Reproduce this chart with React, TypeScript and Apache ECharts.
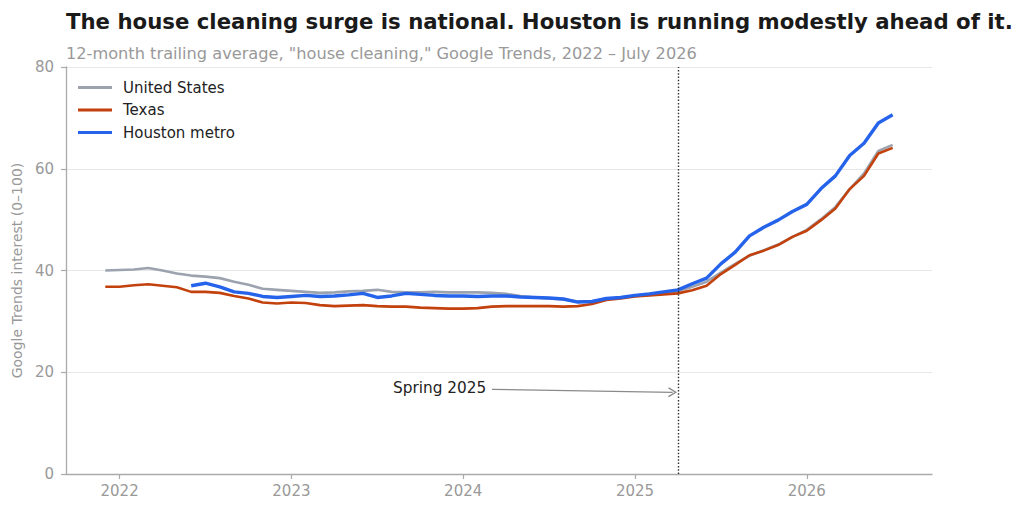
import React, { useEffect, useRef } from "react";
import * as echarts from "echarts";

const months: string[] = [
  "2021-12",
  "2022-01", "2022-02", "2022-03", "2022-04", "2022-05", "2022-06", "2022-07", "2022-08", "2022-09", "2022-10", "2022-11", "2022-12",
  "2023-01", "2023-02", "2023-03", "2023-04", "2023-05", "2023-06", "2023-07", "2023-08", "2023-09", "2023-10", "2023-11", "2023-12",
  "2024-01", "2024-02", "2024-03", "2024-04", "2024-05", "2024-06", "2024-07", "2024-08", "2024-09", "2024-10", "2024-11", "2024-12",
  "2025-01", "2025-02", "2025-03", "2025-04", "2025-05", "2025-06", "2025-07", "2025-08", "2025-09", "2025-10", "2025-11", "2025-12",
  "2026-01", "2026-02", "2026-03", "2026-04", "2026-05", "2026-06", "2026-07",
];

const unitedStates: number[] = [
  40.0,
  40.1, 40.2, 40.5, 40.0, 39.4, 39.0, 38.8, 38.5, 37.8, 37.2, 36.4, 36.2,
  36.0, 35.8, 35.6, 35.7, 35.9, 36.0, 36.2, 35.8, 35.7, 35.7, 35.8, 35.7,
  35.7, 35.7, 35.6, 35.4, 35.0, 34.7, 34.5, 34.3, 33.9, 33.9, 34.4, 34.7,
  35.0, 35.2, 35.5, 35.9, 36.8, 37.8, 39.6, 41.3, 42.9, 44.0, 45.1, 46.6,
  48.0, 50.1, 52.5, 56.0, 59.1, 63.5, 64.7,
];

const texas: number[] = [
  36.8,
  36.8, 37.1, 37.3, 37.0, 36.7, 35.8, 35.8, 35.6, 35.0, 34.5, 33.7, 33.5,
  33.7, 33.6, 33.2, 33.0, 33.1, 33.2, 33.0, 32.9, 32.9, 32.7, 32.6, 32.5,
  32.5, 32.6, 32.9, 33.0, 33.0, 33.0, 33.0, 32.9, 33.0, 33.4, 34.2, 34.5,
  34.9, 35.1, 35.3, 35.5, 36.1, 37.0, 39.3, 41.1, 43.0, 43.9, 45.0, 46.6,
  47.8, 49.9, 52.2, 56.0, 58.6, 63.0, 64.1,
];

const houston: (number | null)[] = [
  null,
  null, null, null, null, null, 37.0, 37.5, 36.8, 35.8, 35.5, 34.9, 34.7,
  34.9, 35.1, 34.9, 35.0, 35.2, 35.5, 34.7, 35.0, 35.5, 35.3, 35.1, 35.0,
  35.0, 34.9, 35.0, 35.0, 34.8, 34.7, 34.6, 34.4, 33.8, 33.9, 34.5, 34.7,
  35.1, 35.4, 35.8, 36.2, 37.4, 38.5, 41.3, 43.6, 46.8, 48.5, 49.9, 51.6,
  53.0, 56.1, 58.6, 62.6, 65.0, 69.0, 70.6,
];

const yearTicks: number[] = [2022, 2023, 2024, 2025, 2026];
const yTicks = { min: 0, max: 80, step: 20 };

const SPRING_2025 = 2025 + 3 / 12; // April 1, 2025
const annotationText = "Spring 2025";
const annotationTextAt: [number, number] = [2024.14, 16.9];
const annotationArrowFrom: [number, number] = [2024.168, 16.65];
const annotationArrowTo: [number, number] = [2025.219, 16.06];

const X_MIN = 2021.688;
const X_MAX = 2026.729;

const TITLE = "The house cleaning surge is national. Houston is running modestly ahead of it.";
const SUBTITLE = '12-month trailing average, "house cleaning," Google Trends, 2022 \u2013 July 2026';
const Y_NAME = "Google Trends interest (0\u2013100)";

const FONT = "DejaVu Sans";

const toYear = (s: string) => Number(s.slice(0, 4)) + (Number(s.slice(5, 7)) - 1) / 12;

const pairs = (vals: (number | null)[]) =>
  months.map((m, i) => [toYear(m), vals[i] == null ? null : vals[i]]).filter((p) => p[1] != null);

export default function App() {
  const ref = useRef<HTMLDivElement>(null);

  useEffect(() => {
    if (!ref.current) return;
    const chart = echarts.init(ref.current, undefined, { renderer: "svg" });
    const openArrow = "path://M5,0 L10,8.5 L8.8,9.3 L5,2.6 L1.2,9.3 L0,8.5 Z";
    const legendLine = "path://M0,0 L34,0 L34,3 L0,3 Z";

    chart.setOption({
      animation: false,
      backgroundColor: "#ffffff",
      textStyle: { fontFamily: FONT },
      title: [
        {
          text: TITLE,
          left: 61,
          top: 6,
          textStyle: { fontFamily: FONT, fontSize: 21.25, fontWeight: "bold", color: "#1a1a1a" },
        },
        {
          text: SUBTITLE,
          left: 61,
          top: 40,
          textStyle: { fontFamily: FONT, fontSize: 16.2, fontWeight: "normal", color: "#999999" },
        },
      ],
      legend: {
        left: 73,
        top: 75,
        orient: "vertical",
        itemWidth: 34,
        itemHeight: 3,
        itemGap: 7.5,
        icon: legendLine,
        data: [
          { name: "United States", itemStyle: { color: "#9ca3af" } },
          { name: "Texas", itemStyle: { color: "#c2410c" } },
          { name: "Houston metro", itemStyle: { color: "#2563eb" } },
        ],
        textStyle: { fontFamily: FONT, fontSize: 15, lineHeight: 15, color: "#222222", padding: [0, 0, 0, 6] },
      },
      grid: { left: 66, right: 92, top: 67, bottom: 39, containLabel: false },
      xAxis: {
        type: "value",
        min: X_MIN,
        max: X_MAX,
        axisLine: { show: true, lineStyle: { color: "#aaaaaa", width: 1.3 } },
        axisTick: { show: true, length: 5, lineStyle: { color: "#aaaaaa", width: 1.2 }, customValues: yearTicks },
        axisLabel: {
          customValues: yearTicks,
          formatter: (v: number) => String(Math.round(v)),
          color: "#999999",
          fontSize: 15,
          fontFamily: FONT,
          margin: 9,
        },
        splitLine: { show: false },
      },
      yAxis: {
        type: "value",
        min: yTicks.min,
        max: yTicks.max,
        interval: yTicks.step,
        name: Y_NAME,
        nameLocation: "middle",
        nameGap: 37,
        nameTextStyle: { fontFamily: FONT, fontSize: 14, color: "#999999" },
        axisLine: { show: true, lineStyle: { color: "#aaaaaa", width: 1.3 } },
        axisTick: { show: true, length: 5, lineStyle: { color: "#aaaaaa", width: 1.2 } },
        axisLabel: { color: "#999999", fontSize: 15, fontFamily: FONT, margin: 12 },
        splitLine: { show: true, lineStyle: { color: "#e8e8e8", width: 1 } },
      },
      series: [
        {
          name: "United States",
          type: "line",
          data: pairs(unitedStates),
          showSymbol: false,
          symbol: "none",
          color: "#9ca3af",
          lineStyle: { color: "#9ca3af", width: 2.6 },
          z: 2,
          markLine: {
            silent: true,
            symbol: "none",
            label: { show: false },
            data: [
              {
                xAxis: SPRING_2025,
                lineStyle: { color: "#333333", width: 1.4, type: [1.5, 1.8] },
              },
              [
                { coord: annotationArrowFrom, symbol: "none" },
                {
                  coord: annotationArrowTo,
                  symbol: openArrow,
                  symbolSize: [10, 9],
                },
              ],
            ],
            lineStyle: { color: "#8a8a8a", width: 1.2, type: "solid" },
          },
          markPoint: {
            silent: true,
            symbol: "circle",
            symbolSize: 0,
            data: [
              {
                coord: annotationTextAt,
                label: {
                  show: true,
                  position: "left",
                  distance: 1,
                  formatter: annotationText,
                  color: "#222222",
                  fontSize: 15.3,
                  fontFamily: FONT,
                },
              },
            ],
          },
        },
        {
          name: "Texas",
          type: "line",
          data: pairs(texas),
          showSymbol: false,
          symbol: "none",
          color: "#c2410c",
          lineStyle: { color: "#c2410c", width: 2.6 },
          z: 3,
        },
        {
          name: "Houston metro",
          type: "line",
          data: pairs(houston),
          showSymbol: false,
          symbol: "none",
          color: "#2563eb",
          lineStyle: { color: "#2563eb", width: 3.4 },
          z: 4,
        },
      ],
    });

    return () => chart.dispose();
  }, []);

  return (
    <div
      ref={ref}
      style={{ position: "absolute", left: 0, top: 0, width: "1024px", height: "513px" }}
    />
  );
}
